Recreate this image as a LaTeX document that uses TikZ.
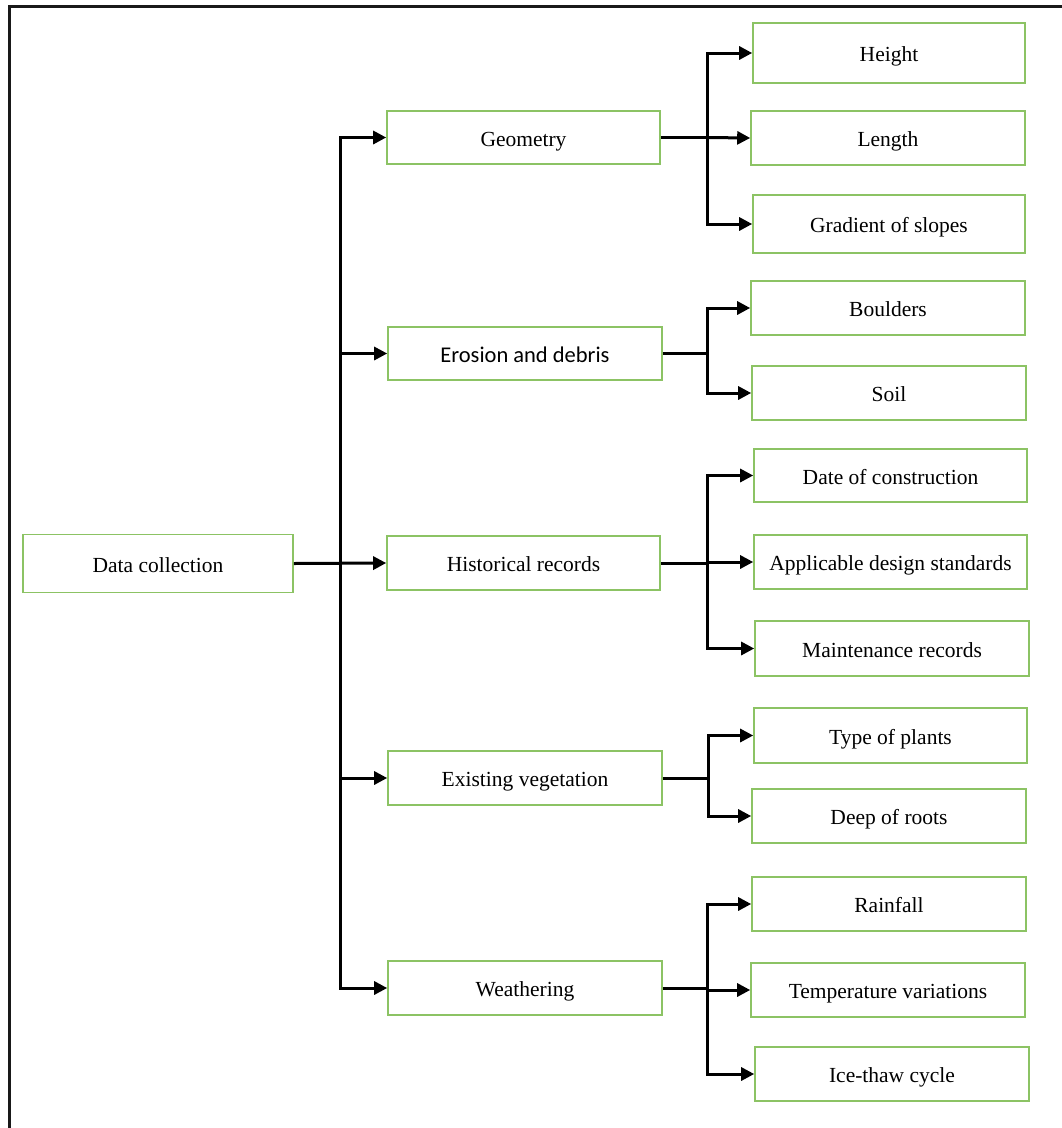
\documentclass[tikz,border=0pt]{standalone}
\usepackage{fontspec}
\setmainfont{Liberation Serif}
\newfontfamily\calibrilike{Carlito}
\usetikzlibrary{arrows.meta}
\definecolor{boxgreen}{RGB}{140,195,100}
\tikzset{
  box/.style={draw=boxgreen, line width=1.6pt, fill=white, inner sep=0pt,
    font=\fontsize{21.5}{24}\selectfont, text=black,
    text height=19pt, text depth=2pt},
  conn/.style={draw=black, line width=3pt},
  arr/.style={conn, -{Triangle[length=13pt,width=13pt]}},
}
\begin{document}
\begin{tikzpicture}[x=1pt,y=-1pt]
  \useasboundingbox (0,0) rectangle (1062,1128);
  % open frame: top and left edges only
  \draw[line width=3pt, black!90] (9,1130) -- (9,6) -- (1064,6);

  % root
  \node[box, minimum width=270pt, minimum height=58pt] (dc) at (158,563.5) {Data collection};

  % categories
  \node[box, minimum width=273pt, minimum height=53pt] (geo)  at (523.5,137.5) {Geometry};
  \node[box, minimum width=274pt, minimum height=53pt] (ero)  at (525,353.5) {\calibrilike\fontsize{22.5}{24}\selectfont Erosion and debris};
  \node[box, minimum width=273pt, minimum height=54pt] (hist) at (523.5,563) {Historical records};
  \node[box, minimum width=274pt, minimum height=54pt] (veg)  at (525,778) {Existing vegetation};
  \node[box, minimum width=274pt, minimum height=54pt] (wea)  at (525,988) {Weathering};

  % items
  \node[box, minimum width=272pt, minimum height=60pt] (height) at (889,53)   {Height};
  \node[box, minimum width=274pt, minimum height=54pt] (length) at (888,138)  {Length};
  \node[box, minimum width=272pt, minimum height=58pt] (grad)   at (889,224)  {Gradient of slopes};
  \node[box, minimum width=274pt, minimum height=54pt] (bould)  at (888,308)  {Boulders};
  \node[box, minimum width=274pt, minimum height=54pt] (soil)   at (889,393)  {Soil};
  \node[box, minimum width=273pt, minimum height=53pt] (date)   at (890.5,475.5) {Date of construction};
  \node[box, minimum width=273pt, minimum height=54pt] (appl)   at (890.5,562) {Applicable design standards};
  \node[box, minimum width=274pt, minimum height=55pt] (maint)  at (892,648.5) {Maintenance records};
  \node[box, minimum width=273pt, minimum height=55pt] (type)   at (890.5,735.5) {Type of plants};
  \node[box, minimum width=274pt, minimum height=54pt] (deep)   at (889,816) {Deep of roots};
  \node[box, minimum width=274pt, minimum height=54pt] (rain)   at (889,904) {Rainfall};
  \node[box, minimum width=274pt, minimum height=54pt] (temp)   at (888,990) {Temperature variations};
  \node[box, minimum width=274pt, minimum height=54pt] (ice)    at (892,1074) {Ice-thaw cycle};

  % junction points
  \coordinate (trunk) at (340,563.5);
  \coordinate (jgeo)  at (707,137.5);
  \coordinate (jero)  at (707,353.5);
  \coordinate (jhist) at (707,563);
  \coordinate (jveg)  at (708,778);
  \coordinate (jwea)  at (707,988);

  % root to categories
  \draw[arr] (dc.east) -- (hist.west);
  \draw[arr] (trunk) |- (geo.west);
  \draw[arr] (trunk) |- (ero.west);
  \draw[arr] (trunk) |- (veg.west);
  \draw[arr] (trunk) |- (wea.west);

  % categories to items
  \draw[conn] (geo.east) -- (jgeo);
  \draw[arr] (jgeo) |- (height.west);
  \draw[arr] (jgeo) -- (length.west);
  \draw[arr] (jgeo) |- (grad.west);

  \draw[conn, line width=3.8pt] (ero.east) -- (jero);
  \draw[arr] (jero) |- (bould.west);
  \draw[arr] (jero) |- (soil.west);

  \draw[conn] (hist.east) -- (jhist);
  \draw[arr] (jhist) |- (date.west);
  \draw[arr] (jhist) |- (appl.west);
  \draw[arr] (jhist) |- (maint.west);

  \draw[conn] (veg.east) -- (jveg);
  \draw[arr] (jveg) |- (type.west);
  \draw[arr] (jveg) |- (deep.west);

  \draw[conn] (wea.east) -- (jwea);
  \draw[arr] (jwea) |- (rain.west);
  \draw[arr] (jwea) |- (temp.west);
  \draw[arr] (jwea) |- (ice.west);
\end{tikzpicture}
\end{document}
